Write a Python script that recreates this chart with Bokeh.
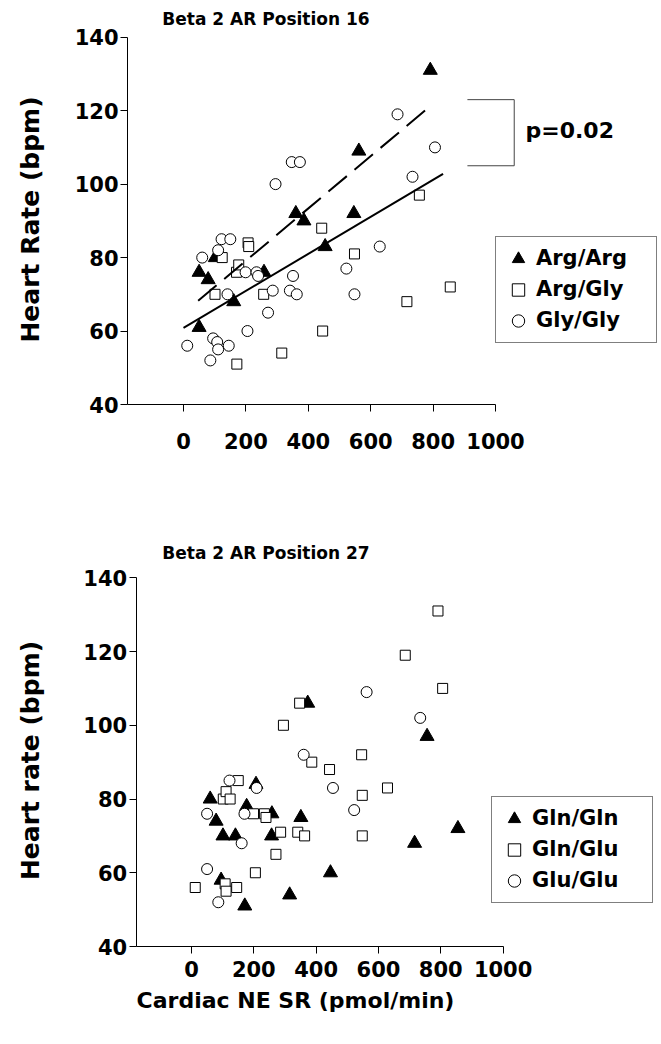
import math
from bokeh.plotting import figure
from bokeh.models import Range1d, FixedTicker, Label, Legend, LegendItem
from bokeh.layouts import column
from bokeh.embed import file_html
from bokeh.resources import INLINE

# ---------------- data ----------------
ne_sr = [12, 50, 50, 60, 79, 86, 95, 102, 101, 108, 111, 111, 122, 124, 141, 145,
         150, 161, 171, 170, 177, 199, 205, 207, 209, 234, 239, 257, 258, 271, 286,
         295, 315, 341, 347, 351, 360, 363, 373, 386, 443, 446, 454, 522, 546, 548,
         548, 562, 629, 686, 716, 734, 756, 791, 806, 855]
heart_rate = [56, 61, 76, 80, 74, 52, 58, 80, 70, 57, 55, 82, 85, 80, 70, 56,
              85, 68, 51, 76, 78, 76, 60, 84, 83, 76, 75, 70, 76, 65, 71,
              100, 54, 71, 106, 75, 92, 70, 106, 90, 88, 60, 83, 77, 92, 81,
              70, 109, 83, 119, 68, 102, 97, 131, 110, 72]
pos16 = ["GG", "RR", "RR", "GG", "RR", "GG", "GG", "RR", "RG", "GG", "GG", "GG", "GG", "RG", "GG", "GG",
         "GG", "RR", "RG", "RG", "RG", "GG", "GG", "RG", "RG", "GG", "GG", "RG", "RR", "GG", "GG",
         "GG", "RG", "GG", "GG", "GG", "RR", "GG", "GG", "RR", "RG", "RG", "RR", "GG", "RR", "RG",
         "GG", "RR", "GG", "GG", "RG", "GG", "RG", "RR", "GG", "RG"]
pos27 = ["QE", "EE", "EE", "QQ", "QQ", "EE", "QQ", "QE", "QQ", "QE", "QE", "QE", "EE", "QE", "QQ", "QE",
         "QE", "EE", "QQ", "EE", "QQ", "QE", "QE", "QQ", "EE", "QE", "QE", "QQ", "QQ", "QE", "QE",
         "QE", "QQ", "QE", "QE", "QQ", "EE", "QE", "QQ", "QE", "QE", "QQ", "EE", "EE", "QE", "QE",
         "QE", "EE", "QE", "QE", "QQ", "EE", "QQ", "QE", "QE", "QQ"]

codes16 = ["RR", "RG", "GG"]
labels16 = ["Arg/Arg", "Arg/Gly", "Gly/Gly"]
codes27 = ["QQ", "QE", "EE"]
labels27 = ["Gln/Gln", "Gln/Glu", "Glu/Glu"]

# regression lines (position 16)
fit_x0 = [47, 0]
fit_x1 = [775, 832]
fit_intercept = [64.9, 60.85]
fit_slope = [0.0712, 0.0504]
fit_dash = ["24 10", "solid"]

# significance bracket
bracket_x = [910, 1060]
bracket_y = [123, 105]
p_text = "p=0.02"

x_ticks = [0, 200, 400, 600, 800, 1000]
y_ticks = [40, 60, 80, 100, 120, 140]
x_axis_max = 1000

FONT = "DejaVu Sans"
marker_style = [
    dict(marker="triangle", size=14, fill_color="black", line_color="black", line_width=1),
    dict(marker="square", size=10, fill_color="white", line_color="black", line_width=1),
    dict(marker="circle", size=11, fill_color="white", line_color="black", line_width=1),
]

# ---------------- page geometry (pixels, as seen in the window) ----------------
PAGE_L, PAGE_R = 0, 660
FIG1_TOP, FIG1_BOT = 0, 528
FIG2_TOP, FIG2_BOT = 528, 1032


class Mapper:
    """window pixel -> data coordinate for one panel"""
    def __init__(self, px0, px_per_x, py140, py_per_y):
        self.px0, self.kx, self.py140, self.ky = px0, px_per_x, py140, py_per_y

    def x(self, px):
        return (px - self.px0) / self.kx

    def y(self, py):
        return 140 - (py - self.py140) / self.ky


m1 = Mapper(183.0, 0.312, 36.7, 3.673)
m2 = Mapper(191.0, 0.3116, 577.3, 3.687)


def make_panel(m, fig_top, fig_bot, axis_px, title, title_px, ylabel, ylabel_px,
               codes, labels, geno, legend_box, tick_standoff):
    p = figure(width=PAGE_R - PAGE_L, height=fig_bot - fig_top, output_backend="svg",
               toolbar_location=None,
               x_range=Range1d(m.x(PAGE_L), m.x(PAGE_R)),
               y_range=Range1d(m.y(fig_bot), m.y(fig_top)),
               min_border=0, min_border_left=0, min_border_right=0,
               min_border_top=0, min_border_bottom=0)
    p.outline_line_color = None
    p.xgrid.visible = False
    p.ygrid.visible = False
    p.background_fill_color = "white"
    x_axis_start = m.x(axis_px)
    p.xaxis.ticker = FixedTicker(ticks=x_ticks)
    p.yaxis.ticker = FixedTicker(ticks=y_ticks)
    p.xaxis.bounds = (x_axis_start, x_axis_max)
    p.yaxis.bounds = (y_ticks[0], y_ticks[-1])
    p.xaxis.fixed_location = y_ticks[0]
    p.yaxis.fixed_location = x_axis_start
    for ax in (p.xaxis[0], p.yaxis[0]):
        ax.axis_line_color = "black"
        ax.axis_line_width = 1
        ax.major_tick_out = 7
        ax.major_tick_in = 0
        ax.minor_tick_out = 0
        ax.minor_tick_in = 0
        ax.major_tick_line_color = "black"
        ax.major_label_text_font = FONT
        ax.major_label_text_font_style = "bold"
        ax.major_label_text_font_size = "21px"
        ax.major_label_text_color = "black"
    p.yaxis.major_label_standoff = 2
    p.xaxis.major_label_standoff = tick_standoff

    items = []
    for code, lab, st in zip(codes, labels, marker_style):
        xs = [x for x, g in zip(ne_sr, geno) if g == code]
        ys = [y for y, g in zip(heart_rate, geno) if g == code]
        r = p.scatter(xs, ys, **st)
        items.append(LegendItem(label=lab, renderers=[r]))

    box_left, box_bottom = legend_box
    leg = Legend(items=items, location=(box_left - PAGE_L, fig_bot - box_bottom),
                 glyph_width=32, glyph_height=31,
                 spacing=0, padding=6, margin=0, label_standoff=2, label_width=114,
                 label_text_font=FONT, label_text_font_style="bold",
                 label_text_font_size="21px", label_text_color="black",
                 border_line_color="black", border_line_width=1,
                 background_fill_color="white", background_fill_alpha=1)
    p.add_layout(leg)

    p.add_layout(Label(x=m.x(title_px[0]), y=m.y(title_px[1]), text=title, text_font=FONT,
                       text_font_style="bold", text_font_size="17px", text_align="center",
                       text_baseline="middle", text_color="black"))
    p.add_layout(Label(x=m.x(ylabel_px[0]), y=m.y(ylabel_px[1]), text=ylabel, text_font=FONT,
                       text_font_style="bold", text_font_size="25px", text_align="center",
                       text_baseline="middle", angle=math.pi / 2, text_color="black"))
    return p


p1 = make_panel(m1, FIG1_TOP, FIG1_BOT, 127.0, "Beta 2 AR Position 16", (265.5, 18),
                "Heart Rate (bpm)", (30, 219), codes16, labels16, pos16,
                legend_box=(495, 342.5), tick_standoff=21)

for x0, x1, b, k, d in zip(fit_x0, fit_x1, fit_intercept, fit_slope, fit_dash):
    p1.line([x0, x1], [b + k * x0, b + k * x1], line_color="black", line_width=2,
            line_dash=d)

p1.line([bracket_x[0], bracket_x[1], bracket_x[1], bracket_x[0]],
        [bracket_y[0], bracket_y[0], bracket_y[1], bracket_y[1]],
        line_color="#444444", line_width=1)
p1.add_layout(Label(x=m1.x(525), y=m1.y(130), text=p_text, text_font=FONT,
                    text_font_style="bold", text_font_size="22px", text_align="left",
                    text_baseline="middle", text_color="black"))

p2 = make_panel(m2, FIG2_TOP, FIG2_BOT, 135.7, "Beta 2 AR Position 27", (265.5, 552),
                "Heart rate (bpm)", (30, 760), codes27, labels27, pos27,
                legend_box=(491, 902.5), tick_standoff=7)
p2.add_layout(Label(x=m2.x(295), y=m2.y(1000), text="Cardiac NE SR (pmol/min)",
                    text_font=FONT, text_font_style="bold", text_font_size="22px",
                    text_align="center", text_baseline="middle", text_color="black"))

layout = column(p1, p2, spacing=0)
open("out.html", "w").write(file_html(layout, INLINE))
